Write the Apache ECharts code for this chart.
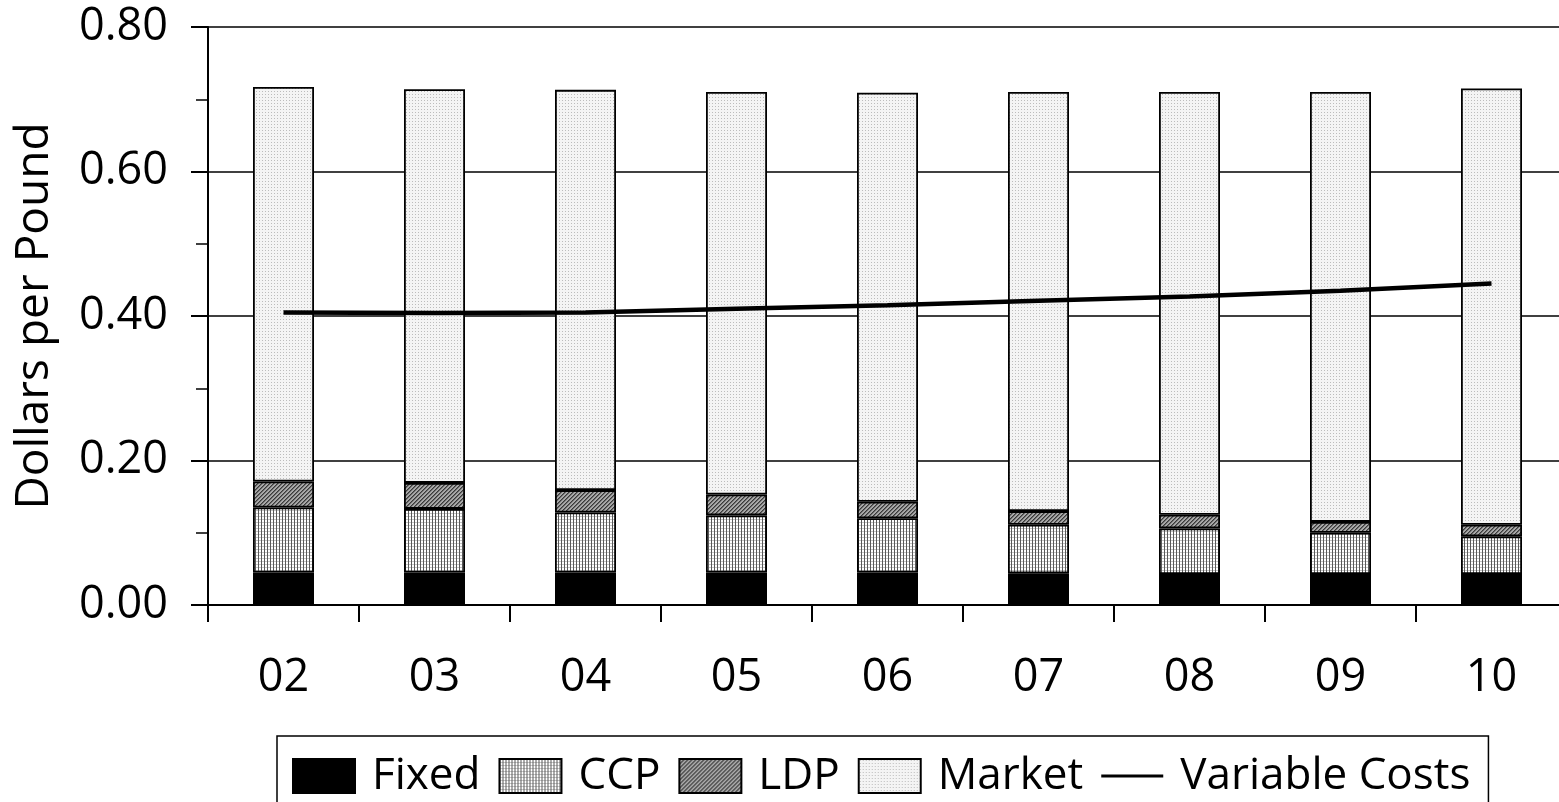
<!DOCTYPE html>
<html>
<head>
<meta charset="utf-8">
<script src="https://cdn.jsdelivr.net/npm/echarts@6/dist/echarts.min.js"></script>
<style>
html,body{margin:0;padding:0;background:#fff;}
#chart{width:1559px;height:802px;}
</style>
</head>
<body>
<div id="chart"></div>
<script>
var categories = ['02','03','04','05','06','07','08','09','10'];
var fixedVals  = [0.045,0.045,0.045,0.045,0.045,0.044,0.043,0.043,0.043];
var ccpVals    = [0.090,0.088,0.083,0.079,0.075,0.067,0.063,0.057,0.052];
var ldpVals    = [0.036,0.036,0.031,0.029,0.023,0.019,0.019,0.015,0.016];
var marketVals = [0.546,0.545,0.554,0.557,0.566,0.580,0.585,0.595,0.604];
var varCosts   = [0.405,0.404,0.405,0.410,0.415,0.421,0.427,0.435,0.445];
var yTicks = [0, 0.2, 0.4, 0.6, 0.8];

function makePattern(w, h, draw) {
  var c = document.createElement('canvas');
  c.width = w; c.height = h;
  var ctx = c.getContext('2d');
  ctx.fillStyle = '#fff';
  ctx.fillRect(0, 0, w, h);
  draw(ctx);
  return { image: c, repeat: 'repeat' };
}
var ccpPattern = makePattern(3, 3, function (ctx) {
  ctx.fillStyle = '#c4c4c4'; ctx.fillRect(0, 0, 3, 1);
  ctx.fillStyle = '#5a5a5a'; ctx.fillRect(0, 0, 1, 3);
});
var ldpPattern = makePattern(4, 4, function (ctx) {
  ctx.fillStyle = '#a8a8a8'; ctx.fillRect(0, 0, 4, 4);
  ctx.fillStyle = '#3a3a3a';
  for (var i = 0; i < 4; i++) { ctx.fillRect(i, (4 - i) % 4, 1, 1); }
  ctx.fillStyle = '#6a6a6a';
  for (var j = 0; j < 4; j++) { ctx.fillRect(j, (5 - j) % 4, 1, 1); }
});
var marketPattern = makePattern(3, 3, function (ctx) {
  ctx.fillStyle = '#f4f4f4'; ctx.fillRect(0, 0, 3, 3);
  ctx.fillStyle = '#bcbcbc'; ctx.fillRect(1, 1, 1, 1);
});

var FONT = 'Open Sans';
function bar(name, data, color) {
  return {
    type: 'bar', stack: 'total', barWidth: 61,
    name: name, data: data,
    itemStyle: { color: color, borderColor: '#000', borderWidth: 1.8 },
    emphasis: { disabled: true }
  };
}

var chart = echarts.init(document.getElementById('chart'), null, { renderer: 'canvas' });
chart.setOption({
  animation: false,
  backgroundColor: '#fff',
  textStyle: { fontFamily: FONT, color: '#000' },
  grid: { left: 208, right: -8, top: 27, bottom: 197, containLabel: false, outerBoundsMode: 'none' },
  legend: {
    left: 277, top: 736,
    width: 1400,
    padding: [18, 18, 27, 15],
    borderColor: '#000', borderWidth: 1.5,
    icon: 'rect',
    itemWidth: 62, itemHeight: 34, itemGap: 18,
    textStyle: { fontFamily: FONT, fontSize: 44, color: '#000', padding: [0, 0, 0, 12] },
    data: [
      { name: 'Fixed' }, { name: 'CCP' }, { name: 'LDP' }, { name: 'Market' },
      { name: 'Variable Costs', icon: 'path://M0,0H77V4H0Z' }
    ]
  },
  xAxis: {
    type: 'category', data: categories,
    axisLine: { lineStyle: { color: '#000', width: 2 } },
    axisTick: { show: true, length: 17, lineStyle: { color: '#000', width: 2 } },
    axisLabel: { fontFamily: FONT, fontSize: 45, color: '#000', margin: 51 }
  },
  yAxis: {
    type: 'value', min: yTicks[0], max: yTicks[yTicks.length - 1], interval: 0.2,
    name: 'Dollars per Pound', nameLocation: 'middle', nameGap: 150,
    nameTextStyle: { fontFamily: FONT, fontSize: 46, color: '#000' },
    axisLine: { show: true, lineStyle: { color: '#000', width: 2 } },
    axisTick: { show: true, length: 17, lineStyle: { color: '#000', width: 2 } },
    minorTick: { show: true, splitNumber: 2, length: 12, lineStyle: { color: '#000', width: 1.5 } },
    splitLine: { show: true, lineStyle: { color: '#000', width: 1.5 } },
    axisLabel: { fontFamily: FONT, fontSize: 45, color: '#000', margin: 40,
      formatter: function (v) { return v.toFixed(2); } }
  },
  series: [
    bar('Fixed', fixedVals, '#000'),
    bar('CCP', ccpVals, ccpPattern),
    bar('LDP', ldpVals, ldpPattern),
    bar('Market', marketVals, marketPattern),
    {
      name: 'Variable Costs', type: 'line', data: varCosts,
      symbol: 'none', showSymbol: false,
      lineStyle: { color: '#000', width: 4.5 },
      itemStyle: { color: '#000' },
      z: 5
    }
  ]
});
</script>
</body>
</html>
